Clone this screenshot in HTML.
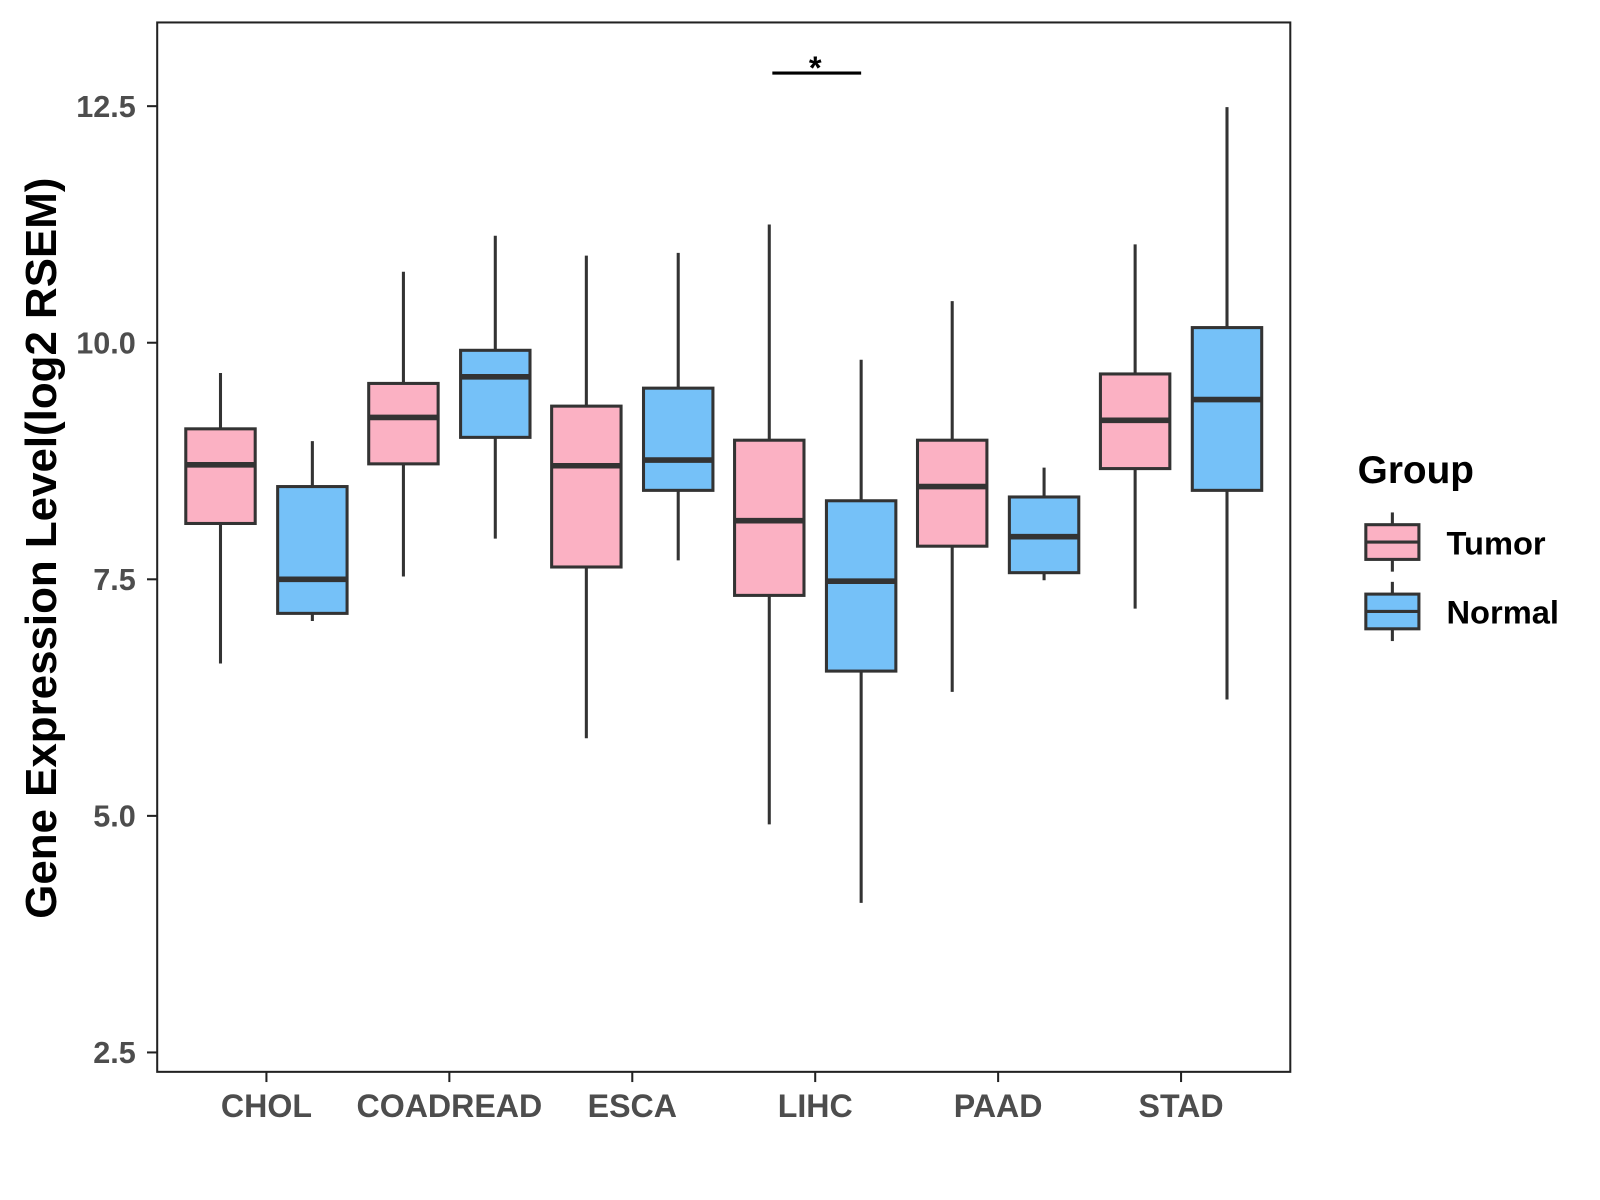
<!DOCTYPE html>
<html><head><meta charset="utf-8"><style>
html,body{margin:0;padding:0;background:#fff;}
svg{display:block;font-family:"Liberation Sans",Arial,sans-serif;}
</style></head><body>
<svg id="chart" width="1600" height="1200" viewBox="0 0 1600 1200">
<g transform="scale(1.0208)">
<rect x="154" y="22" width="1110" height="1028" fill="#fff" stroke="#222" stroke-width="2"/>
<g id="marks"></g>
<g id="axes"></g>
<text transform="translate(55,537) rotate(-90)" text-anchor="middle" font-size="43" font-weight="bold" fill="#000">Gene Expression Level(log2 RSEM)</text>
<g>
<text x="1330" y="473" font-size="38" font-weight="bold" fill="#000">Group</text>
<g>
<line x1="1364" y1="502" x2="1364" y2="560" stroke="#333" stroke-width="3"/>
<rect x="1338" y="514" width="52" height="34" fill="#FBB1C3" stroke="#333" stroke-width="3"/>
<line x1="1338" y1="531" x2="1390" y2="531" stroke="#333" stroke-width="3"/>
<text x="1417" y="543" font-size="32" font-weight="bold" fill="#000">Tumor</text>
</g>
<g>
<line x1="1364" y1="570" x2="1364" y2="628" stroke="#333" stroke-width="3"/>
<rect x="1338" y="582" width="52" height="34" fill="#75C1F8" stroke="#333" stroke-width="3"/>
<line x1="1338" y1="599" x2="1390" y2="599" stroke="#333" stroke-width="3"/>
<text x="1417" y="611" font-size="32" font-weight="bold" fill="#000">Normal</text>
</g>
</g>
</g>
</svg>
<script>
const categories = ["CHOL","COADREAD","ESCA","LIHC","PAAD","STAD"];
// [whiskerLow, q1, median, q3, whiskerHigh]
const tumorStats = [
 [6.61,8.09,8.71,9.09,9.68],
 [7.53,8.72,9.21,9.57,10.75],
 [5.82,7.63,8.70,9.33,10.92],
 [4.91,7.33,8.12,8.97,11.25],
 [6.31,7.85,8.48,8.97,10.44],
 [7.19,8.67,9.18,9.67,11.04]
];
const normalStats = [
 [7.06,7.14,7.50,8.48,8.96],
 [7.93,9.00,9.64,9.92,11.13],
 [7.70,8.44,8.76,9.52,10.95],
 [4.08,6.53,7.48,8.33,9.82],
 [7.49,7.57,7.95,8.37,8.68],
 [6.23,8.44,9.40,10.16,12.49]
];
const yTicks = [2.5,5.0,7.5,10.0,12.5];
const yTickLabels = ["2.5","5.0","7.5","10.0","12.5"];
const sigIndex = 3;
const sigValue = 12.85;
const sigLabel = "*";

const NS="http://www.w3.org/2000/svg";
function yScale(v){return 104+(12.5-v)*92.7;}
function xScale(i){return 261+i*179.2;}
function mk(tag,attrs,parent){const e=document.createElementNS(NS,tag);for(const k in attrs)e.setAttribute(k,attrs[k]);parent.appendChild(e);return e;}
const marks=document.getElementById("marks"), axes=document.getElementById("axes");
function drawBox(s,cx,fill,name){
  const g=mk("g",{},marks);
  
  
  const w=68;
  mk("line",{x1:cx,x2:cx,y1:yScale(s[4]),y2:yScale(s[0]),stroke:"#333","stroke-width":3},g);
  mk("rect",{x:cx-w/2,y:yScale(s[3]),width:w,height:yScale(s[1])-yScale(s[3]),fill:fill,stroke:"#333","stroke-width":3},g);
  mk("line",{x1:cx-w/2,x2:cx+w/2,y1:yScale(s[2]),y2:yScale(s[2]),stroke:"#333","stroke-width":5.5},g);
}
categories.forEach((c,i)=>{
  drawBox(tumorStats[i],xScale(i)-45,"#FBB1C3","box-"+c.toLowerCase()+"-tumor");
  drawBox(normalStats[i],xScale(i)+45,"#75C1F8","box-"+c.toLowerCase()+"-normal");
  mk("line",{x1:xScale(i),x2:xScale(i),y1:1050,y2:1060,stroke:"#222","stroke-width":2},axes);
  const t=mk("text",{x:xScale(i),y:1094,"text-anchor":"middle","font-size":31.5,"font-weight":"bold",fill:"#4d4d4d"},axes);
  
  
  t.textContent=c;
});
yTicks.forEach((v,i)=>{
  mk("line",{x1:144,x2:154,y1:yScale(v),y2:yScale(v),stroke:"#222","stroke-width":2},axes);
  const t=mk("text",{x:133,y:yScale(v)+10.5,"text-anchor":"end","font-size":30,"font-weight":"bold",fill:"#4d4d4d"},axes);
  
  
  t.textContent=yTickLabels[i];
});
const sg=mk("g",{},marks);


mk("line",{x1:xScale(sigIndex)-42,x2:xScale(sigIndex)+45,y1:yScale(sigValue),y2:yScale(sigValue),stroke:"#000","stroke-width":3},sg);
const st=mk("text",{x:xScale(sigIndex),y:yScale(sigValue)+6,"text-anchor":"middle","font-size":32,"font-weight":"bold",fill:"#000"},sg);
st.textContent=sigLabel;
</script>
</body></html>
